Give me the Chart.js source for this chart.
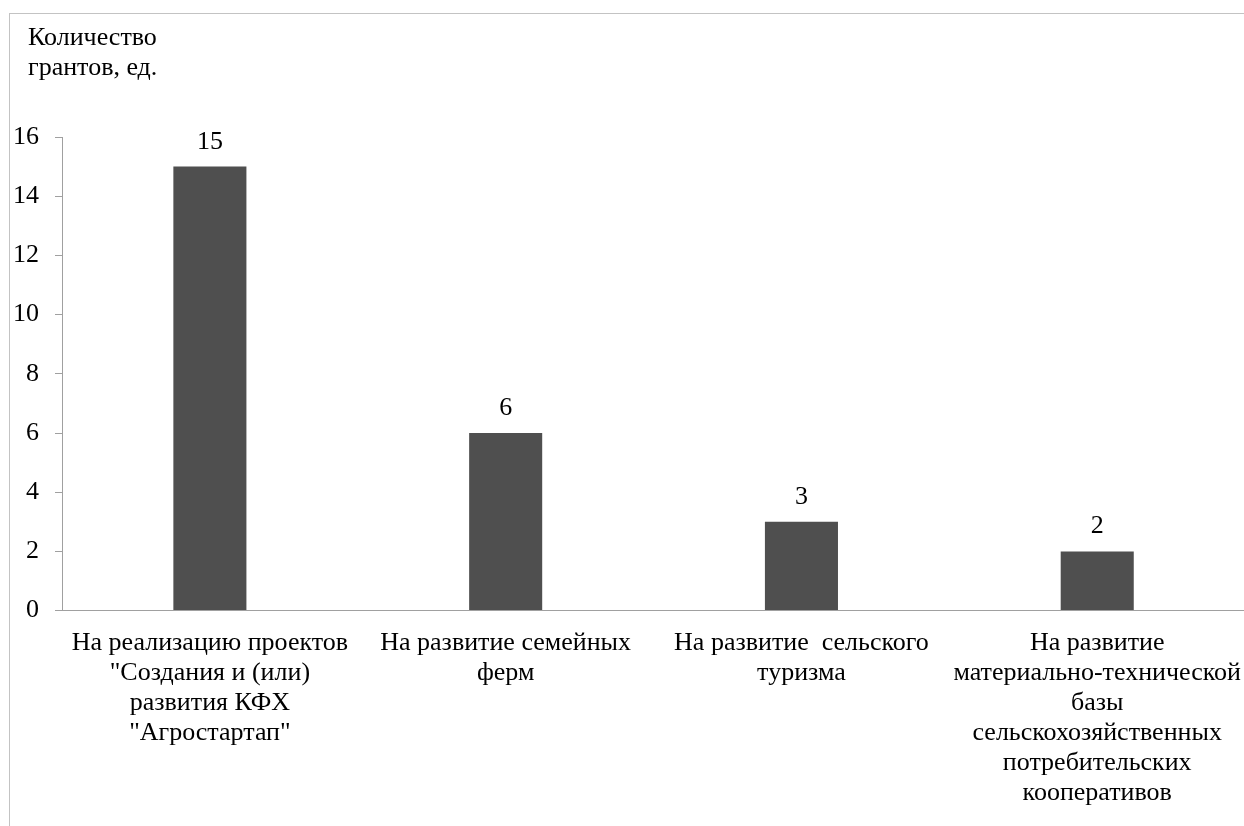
<!DOCTYPE html>
<html>
<head>
<meta charset="utf-8">
<script src="https://cdn.jsdelivr.net/npm/chart.js@4"></script>
<style>
  html, body { margin: 0; padding: 0; background: #fff; overflow: hidden; }
  #frame { position: absolute; left: 9px; top: 13px; width: 1400px; height: 1000px;
           border-left: 1px solid #c3c3c3; border-top: 1px solid #c3c3c3; }
  #graph { position: absolute; left: 0; top: 0; }
</style>
</head>
<body>
<div id="frame"></div>
<canvas id="graph" width="1259" height="826"></canvas>
<script>
const categories = [
    ['На реализацию проектов', '"Создания и (или)', 'развития КФХ', '"Агростартап"'],
    ['На развитие семейных', 'ферм'],
    ['На развитие  сельского', 'туризма'],
    ['На развитие', 'материально-технической', 'базы', 'сельскохозяйственных', 'потребительских', 'кооперативов']
];
const grants = [15, 6, 3, 2];
const axisTitle = ['Количество', 'грантов, ед.'];

const serif = "'Liberation Serif', 'Times New Roman', serif";
const fontSize = 26;

// titre de l'axe en haut à gauche + valeurs au-dessus des barres
const annotations = {
    id: 'annotations',
    afterDatasetsDraw(chart) {
        const ctx = chart.ctx;
        ctx.save();
        ctx.fillStyle = '#000';
        ctx.font = fontSize + 'px ' + serif;
        ctx.textAlign = 'left';
        ctx.textBaseline = 'alphabetic';
        axisTitle.forEach((line, i) => ctx.fillText(line, 28, 45 + i * 30));

        ctx.textAlign = 'center';
        chart.getDatasetMeta(0).data.forEach((bar, i) => {
            ctx.fillText(String(grants[i]), bar.x, bar.y - 18);
        });
        ctx.restore();
    }
};

const drawChart = () => {
    new Chart(document.getElementById('graph'), {
        type: 'bar',
        data: {
            labels: categories,
            datasets: [{
                data: grants,
                backgroundColor: '#4f4f4f',
                barPercentage: 0.247,
                categoryPercentage: 1
            }]
        },
        options: {
            responsive: false,
            animation: false,
            layout: { padding: { top: 137, left: -3, right: 0, bottom: 0 } },
            plugins: {
                legend: { display: false },
                tooltip: { enabled: false }
            },
            scales: {
                x: {
                    grid: { display: false, drawTicks: false },
                    border: { color: '#a0a0a0', width: 1 },
                    ticks: {
                        color: '#000',
                        padding: 18,
                        maxRotation: 0,
                        autoSkip: false,
                        font: { family: serif, size: fontSize, lineHeight: 1.15 }
                    }
                },
                y: {
                    min: 0,
                    max: 16,
                    grid: { drawOnChartArea: false, drawTicks: true, tickLength: 7, color: '#a0a0a0' },
                    border: { color: '#a0a0a0', width: 1 },
                    ticks: {
                        stepSize: 2,
                        color: '#000',
                        padding: 16,
                        font: { family: serif, size: fontSize }
                    }
                }
            }
        },
        plugins: [annotations]
    });
};

// attendre la police serif avant de dessiner
document.fonts.load(fontSize + 'px "Liberation Serif"', 'Количество 0123').then(drawChart, drawChart);
</script>
</body>
</html>
